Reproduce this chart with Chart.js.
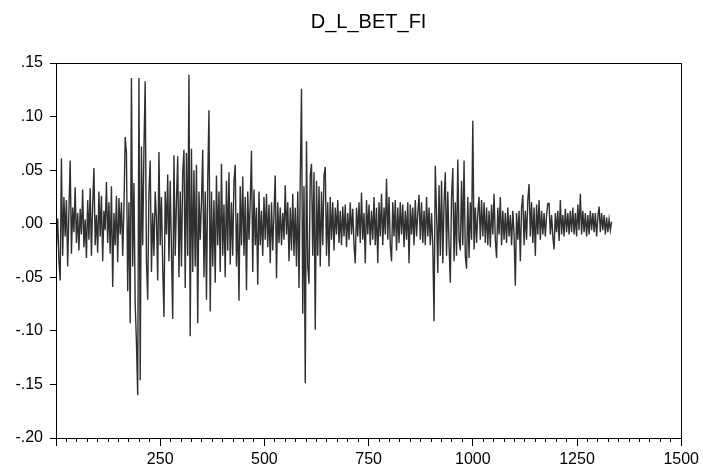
<!DOCTYPE html>
<html>
<head>
<meta charset="utf-8">
<script src="https://cdn.jsdelivr.net/npm/chart.js@4/dist/chart.umd.min.js"></script>
<style>
  body { margin: 0; background: #fff; }
  canvas { display: block; }
</style>
</head>
<body>
<canvas id="chart" width="703" height="466"></canvas>
<script>
const chartTitle = 'D_L_BET_FI';
const firstObs = 1;
const obsStep = 3;

// observations 1 - 328
const valuesPart1 = [
  -0.020, 0.005, -0.035, -0.053, 0.061, -0.030, 0.025, -0.012, 0.022, -0.040,
  0.012, 0.059, -0.028, 0.015, -0.008, 0.034, -0.018, 0.010, -0.025, 0.014,
  -0.010, 0.032, -0.022, 0.004, -0.032, 0.022, -0.015, 0.033, -0.030, 0.018,
  0.052, -0.020, 0.008, -0.027, 0.030, -0.012, 0.026, -0.035, 0.012, -0.006,
  0.039, -0.018, 0.020, -0.028, 0.035, -0.059, 0.010, -0.020, 0.026, -0.036,
  0.024, -0.010, 0.020, -0.030, 0.015, 0.081, 0.066, -0.063, 0.020, -0.093,
  0.136, -0.040, 0.038, -0.075, -0.111, -0.160, 0.136, -0.146, 0.072, -0.020,
  0.070, 0.133, -0.035, -0.071, 0.030, 0.059, -0.045, 0.010, -0.030, 0.030,
  0.005, -0.053, 0.067, -0.020, 0.025, -0.040, -0.087, 0.030, -0.010, 0.046,
  -0.035, 0.040, -0.025, -0.089, 0.064, -0.030, 0.020, 0.063, -0.050, 0.030,
  -0.040, 0.048, 0.069, -0.060, 0.066, -0.030, 0.139, -0.105, 0.070, -0.045
];

// observations 331 - 658
const valuesPart2 = [
  0.050, -0.040, 0.055, -0.093, 0.030, -0.015, 0.020, 0.069, -0.050, 0.030,
  -0.071, 0.040, 0.106, -0.082, 0.030, -0.040, 0.022, -0.055, 0.045, -0.020,
  0.030, -0.045, 0.056, -0.030, 0.018, -0.050, 0.040, -0.025, 0.048, -0.038,
  0.020, -0.030, 0.040, 0.055, -0.040, 0.010, -0.072, 0.035, -0.020, 0.044,
  -0.030, 0.025, -0.062, 0.030, -0.015, 0.020, 0.068, -0.045, 0.032, -0.020,
  0.015, -0.057, 0.030, -0.020, 0.012, -0.030, 0.025, -0.015, 0.028, -0.022,
  0.018, -0.037, 0.020, -0.025, 0.010, 0.045, -0.051, 0.020, -0.018, 0.015,
  -0.020, 0.010, -0.015, 0.036, -0.010, 0.020, -0.035, 0.015, -0.025, 0.028,
  -0.030, 0.015, -0.040, 0.030, -0.060, 0.040, 0.126, -0.084, 0.035, -0.149,
  0.077, -0.040, -0.056, 0.045, 0.056, -0.030, 0.048, -0.099, 0.040, -0.030,
  0.035, -0.040, 0.030, -0.020, 0.045, 0.053, -0.030, 0.020, -0.040, 0.025
];

// observations 661 - 988
const valuesPart3 = [
  -0.015, 0.020, -0.025, 0.015, -0.010, 0.022, -0.018, 0.012, -0.020, 0.016,
  -0.012, 0.018, -0.022, 0.010, -0.015, 0.020, -0.010, 0.014, -0.020, -0.037,
  0.015, -0.012, 0.020, -0.018, 0.029, -0.015, 0.010, -0.037, 0.022, -0.010,
  0.018, -0.020, 0.012, -0.015, 0.025, -0.020, 0.015, -0.037, 0.020, -0.012,
  0.028, -0.020, 0.015, -0.010, 0.042, -0.015, 0.025, -0.020, -0.035, 0.020,
  -0.012, 0.022, -0.025, 0.015, -0.018, 0.020, -0.010, 0.018, -0.022, 0.012,
  -0.015, 0.020, -0.037, 0.018, -0.010, 0.015, -0.020, 0.022, -0.012, 0.010,
  0.027, -0.015, 0.020, -0.018, 0.012, -0.020, 0.025, -0.012, 0.015, -0.020,
  0.010, -0.020, -0.091, 0.054, 0.010, -0.046, 0.036, -0.030, 0.040, -0.037,
  0.020, 0.048, -0.030, 0.030, -0.020, -0.055, 0.025, 0.052, -0.035, 0.020,
  -0.030, 0.060, -0.015, -0.025, 0.040, -0.020, 0.059, -0.030, -0.042, 0.025
];

// observations 991 - 1333
const valuesPart4 = [
  -0.032, 0.020, -0.015, 0.096, -0.024, 0.015, -0.018, 0.010, 0.025, -0.015,
  0.022, -0.012, 0.020, -0.018, 0.015, -0.020, 0.012, -0.022, 0.018, -0.010,
  0.028, -0.015, -0.032, 0.015, -0.010, 0.025, -0.020, 0.012, -0.015, 0.010,
  -0.018, 0.015, -0.012, 0.008, -0.020, 0.012, -0.010, -0.058, 0.010, -0.015,
  0.012, -0.035, 0.015, 0.027, -0.020, 0.012, -0.015, 0.022, 0.037, -0.012,
  0.020, -0.018, 0.015, -0.030, 0.018, -0.010, 0.022, -0.015, 0.012, -0.010,
  0.010, -0.012, 0.008, 0.019, 0.019, -0.010, 0.008, -0.012, -0.024, 0.010,
  -0.008, 0.012, -0.016, 0.022, -0.010, 0.008, -0.012, 0.014, -0.008, 0.010,
  -0.010, 0.012, -0.008, 0.015, -0.010, 0.010, -0.012, 0.018, -0.006, 0.028,
  -0.010, 0.012, -0.008, 0.010, -0.012, 0.008, -0.010, 0.012, -0.006, 0.010,
  -0.008, 0.010, -0.012, 0.006, 0.016, -0.008, 0.010, -0.006, 0.008, -0.010,
  0.006, -0.008, 0.004, -0.006, 0.002
];

const xMin = 0, xMax = 1500, xMajorStep = 250, xMinorStep = 25;
const yMin = -0.20, yMax = 0.15, yStep = 0.05;

const fontFamily = '"Liberation Sans", Arial, Helvetica, sans-serif';

// Construire les points (numero d'observation, valeur)
function buildPoints() {
  const values = valuesPart1.concat(valuesPart2, valuesPart3, valuesPart4);
  return values.map((v, i) => ({ x: firstObs + i * obsStep, y: v }));
}

// Format EViews : .15, .00, -.05
function formatY(v) {
  if (Math.abs(v) < 1e-9) return '.00';
  return v.toFixed(2).replace('0.', '.');
}

// Cadre complet autour de la zone du graphique
const framePlugin = {
  id: 'frame',
  afterDraw(chart) {
    const a = chart.chartArea;
    const ctx = chart.ctx;
    ctx.save();
    ctx.strokeStyle = '#000';
    ctx.lineWidth = 1;
    ctx.strokeRect(Math.round(a.left) + 0.5, Math.round(a.top) + 0.5,
      Math.round(a.right - a.left), Math.round(a.bottom - a.top));
    ctx.restore();
  }
};

const ctx = document.getElementById('chart').getContext('2d');
new Chart(ctx, {
  type: 'line',
  data: {
    datasets: [{
      data: buildPoints(),
      borderColor: '#303030',
      borderWidth: 1.4,
      pointRadius: 0,
      tension: 0,
      fill: false,
      xAxisID: 'x',
      yAxisID: 'y'
    }]
  },
  options: {
    responsive: false,
    animation: false,
    devicePixelRatio: 1,
    layout: { padding: { top: 0, right: 21, bottom: 0, left: 0 } },
    plugins: {
      legend: { display: false },
      tooltip: { enabled: false },
      title: {
        display: true,
        text: chartTitle,
        fullSize: false,
        color: '#000',
        font: { family: fontFamily, size: 20, weight: 'normal' },
        padding: { top: 10, bottom: 29 }
      }
    },
    scales: {
      xMinor: {
        type: 'linear',
        position: 'bottom',
        weight: 0,
        min: xMin,
        max: xMax,
        ticks: { display: false, stepSize: xMinorStep },
        grid: { drawOnChartArea: false, tickLength: 4, tickColor: '#000', tickWidth: 1 },
        border: { display: false },
        afterFit: s => { s.height = 0; }
      },
      x: {
        type: 'linear',
        position: 'bottom',
        weight: 1,
        min: xMin,
        max: xMax,
        ticks: {
          stepSize: xMajorStep,
          autoSkip: false,
          maxRotation: 0,
          padding: 4,
          color: '#000',
          font: { family: fontFamily, size: 16 },
          callback: v => (v === 0 ? '' : String(v))
        },
        grid: { drawOnChartArea: false, tickLength: 8, tickColor: '#000', tickWidth: 1 },
        border: { color: '#000', width: 1 },
        afterFit: s => { s.height = 28; }
      },
      y: {
        type: 'linear',
        position: 'left',
        min: yMin,
        max: yMax,
        ticks: {
          stepSize: yStep,
          autoSkip: false,
          padding: 7,
          color: '#000',
          font: { family: fontFamily, size: 16 },
          callback: v => formatY(v)
        },
        grid: { drawOnChartArea: false, tickLength: 6, tickColor: '#000', tickWidth: 1 },
        border: { color: '#000', width: 1 },
        afterFit: s => { s.width = 56; }
      }
    }
  },
  plugins: [framePlugin]
});
</script>
</body>
</html>
